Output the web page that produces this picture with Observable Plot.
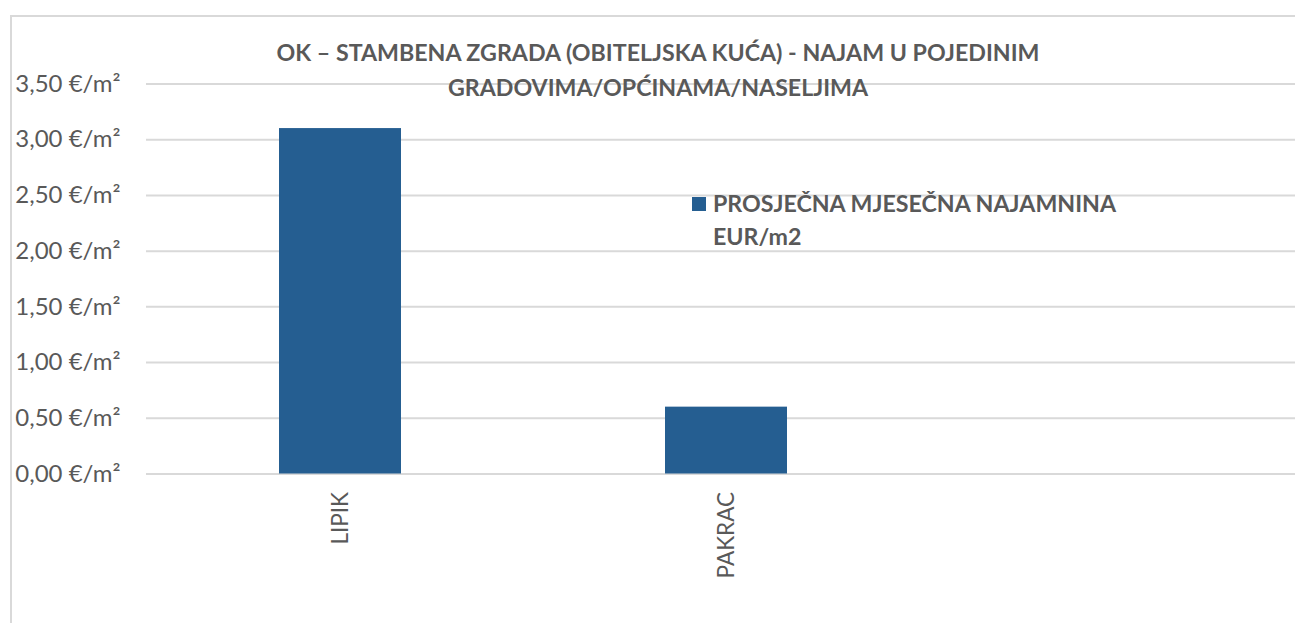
<!DOCTYPE html>
<html>
<head>
<meta charset="utf-8">
<script src="https://cdn.jsdelivr.net/npm/d3@7"></script>
<script src="https://cdn.jsdelivr.net/npm/@observablehq/plot@0.6"></script>
<style>
  html, body { margin: 0; padding: 0; background: #fff; }
  #wrap { position: relative; width: 1295px; height: 623px; overflow: hidden; font-family: Lato, "Open Sans", sans-serif; color: #595959; }
  #chart { position: absolute; left: 0; top: 0; width: 1306px; }
  #chart svg { max-width: none !important; }
  #box { position: absolute; left: 10px; top: 15px; width: 1320px; height: 640px; border: 2px solid #d9d9d9; box-sizing: border-box; pointer-events: none; }
  #title { position: absolute; left: 10px; width: 1296px; top: 35px; text-align: center; font-weight: bold; font-size: 23.2px; line-height: 35px; color: #595959; }
  #legend { position: absolute; left: 692px; top: 187px; display: flex; align-items: flex-start; font-weight: bold; font-size: 23.2px; line-height: 33px; color: #595959; }
  #legend .sw { width: 14px; height: 14px; margin-top: 10px; margin-right: 7px; flex: none; }
  #legend .lbl { width: 430px; }
  g[aria-label="x-axis tick label"] text { font-size: 22.5px; }
</style>
</head>
<body>
<div id="wrap">
  <div id="chart"></div>
  <div id="box"></div>
  <div id="title"></div>
  <div id="legend"></div>
</div>
<script>
const titleLines = ["OK – STAMBENA ZGRADA (OBITELJSKA KUĆA) - NAJAM U POJEDINIM", "GRADOVIMA/OPĆINAMA/NASELJIMA"];
const categories = ["LIPIK", "PAKRAC"];
const values = [3.10, 0.60];
const seriesName = "PROSJEČNA MJESEČNA NAJAMNINA EUR/m2";
const yTicks = [0, 0.5, 1, 1.5, 2, 2.5, 3, 3.5];
const barColor = "#255E91";

const data = categories.map((c, i) => ({city: c, value: values[i]}));
const xDomain = [...categories, ""];

const fmt = d => d.toFixed(2).replace(".", ",") + " €/m²";

const chart = Plot.plot({
  width: 1306,
  height: 623,
  marginLeft: 146,
  marginRight: 0,
  marginTop: 83.5,
  marginBottom: 149.5,
  style: { fontFamily: "Lato, 'Open Sans', sans-serif", fontSize: "24px", color: "#595959", background: "transparent", maxWidth: "none" },
  x: { type: "band", domain: xDomain, paddingInner: 0.685, paddingOuter: 0.3425 },
  y: { domain: [0, 3.5] },
  marks: [
    Plot.gridY(yTicks, { stroke: "#d9d9d9", strokeOpacity: 1, strokeWidth: 2 }),
    Plot.barY(data, { x: "city", y: "value", fill: barColor }),
    Plot.axisY(yTicks, { tickSize: 0, tickPadding: 26, tickFormat: fmt, label: null }),
    Plot.axisX({ tickSize: 0, tickPadding: 18, tickRotate: -90, label: null })
  ]
});
document.getElementById("chart").appendChild(chart);

document.getElementById("title").innerHTML = titleLines.join("<br>");
const lg = document.getElementById("legend");
const sw = document.createElement("div");
sw.className = "sw";
sw.style.background = barColor;
const lbl = document.createElement("div");
lbl.className = "lbl";
lbl.textContent = seriesName;
lg.appendChild(sw);
lg.appendChild(lbl);
</script>
</body>
</html>
